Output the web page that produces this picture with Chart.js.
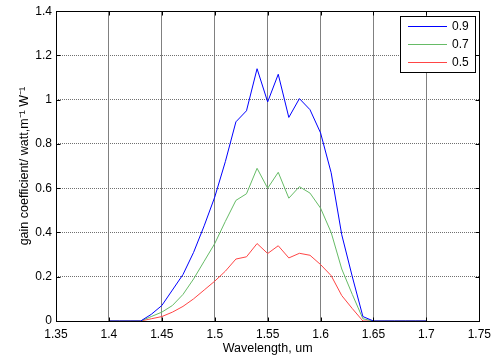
<!DOCTYPE html>
<html>
<head>
<meta charset="utf-8">
<title>Gain coefficient</title>
<script src="https://cdn.jsdelivr.net/npm/chart.js@4.4.0/dist/chart.umd.min.js"></script>
<style>
  html, body { margin: 0; padding: 0; background: #fff; }
  #wrap { width: 497px; height: 358px; }
</style>
</head>
<body>
<div id="wrap"><canvas id="gainChart"></canvas></div>
<script>
// wavelength in um, one sample every 0.01
var wavelength = [1.40, 1.41, 1.42, 1.43, 1.44, 1.45, 1.46, 1.47, 1.48, 1.49,
                  1.50, 1.51, 1.52, 1.53, 1.54, 1.55, 1.56, 1.57, 1.58, 1.59,
                  1.60, 1.61, 1.62, 1.63, 1.64, 1.65, 1.66, 1.67, 1.68, 1.69, 1.70];
var gain09 = [0, 0, 0, 0, 0.03, 0.07, 0.14, 0.21, 0.31, 0.43,
              0.56, 0.72, 0.90, 0.95, 1.14, 0.99, 1.115, 0.92, 1.005, 0.955,
              0.85, 0.67, 0.39, 0.20, 0.02, 0, 0, 0, 0, 0, 0];
var gain07 = [0, 0, 0, 0, 0.02, 0.04, 0.07, 0.12, 0.19, 0.27,
              0.35, 0.45, 0.545, 0.575, 0.69, 0.60, 0.672, 0.555, 0.607, 0.578,
              0.51, 0.40, 0.235, 0.12, 0.01, 0, 0, 0, 0, 0, 0];
var gain05 = [0, 0, 0, 0, 0.01, 0.02, 0.04, 0.066, 0.10, 0.14,
              0.18, 0.225, 0.28, 0.29, 0.35, 0.305, 0.34, 0.285, 0.306, 0.297,
              0.255, 0.205, 0.115, 0.056, 0, 0, 0, 0, 0, 0, 0];
var seriesNames = ["0.9", "0.7", "0.5"];
var xTicks = [1.35, 1.4, 1.45, 1.5, 1.55, 1.6, 1.65, 1.7, 1.75];
var yTicks = [0, 0.2, 0.4, 0.6, 0.8, 1, 1.2, 1.4];

var colors = ['#0000ff', '#66bb66', '#ff4545'];
var values = [gain09, gain07, gain05];

function points(ys) {
  return wavelength.map(function (w, i) { return { x: w, y: ys[i] }; });
}

var tickFont = { family: "'Liberation Sans', Arial, sans-serif", size: 12 };
var titleFont = { family: "'Liberation Sans', Arial, sans-serif", size: 12.5 };

// black box round the plot, with short inward tick marks on all four sides
var plotFrame = {
  id: 'plotFrame',
  afterDatasetsDraw: function (chart) {
    var ctx = chart.ctx, a = chart.chartArea;
    var xs = chart.scales.x, ys = chart.scales.y;
    var L = Math.round(a.left) + 0.5, R = Math.round(a.right) + 0.5;
    var T = Math.round(a.top) + 0.5, B = Math.round(a.bottom) + 0.5;
    ctx.save();
    ctx.setLineDash([]);
    ctx.strokeStyle = '#000';
    ctx.lineWidth = 1;
    ctx.beginPath();
    xs.ticks.forEach(function (t) {
      var px = Math.round(xs.getPixelForValue(t.value)) + 0.5;
      ctx.moveTo(px, B); ctx.lineTo(px, B - 4);
      ctx.moveTo(px, T); ctx.lineTo(px, T + 4);
    });
    ys.ticks.forEach(function (t) {
      var py = Math.round(ys.getPixelForValue(t.value)) + 0.5;
      ctx.moveTo(L, py); ctx.lineTo(L + 4, py);
      ctx.moveTo(R, py); ctx.lineTo(R - 4, py);
    });
    ctx.stroke();
    ctx.strokeRect(L, T, R - L, B - T);
    ctx.restore();
  }
};

// legend box in the upper right corner of the plot
var boxLegend = {
  id: 'boxLegend',
  afterDraw: function (chart) {
    var ctx = chart.ctx, a = chart.chartArea;
    var w = 75, h = 56;
    var x0 = Math.round(a.right) - 4 - w, y0 = Math.round(a.top) + 5;
    ctx.save();
    ctx.setLineDash([]);
    ctx.fillStyle = '#fff';
    ctx.fillRect(x0, y0, w, h);
    ctx.strokeStyle = '#000';
    ctx.lineWidth = 1;
    ctx.strokeRect(x0 + 0.5, y0 + 0.5, w, h);
    ctx.font = "12px 'Liberation Sans', Arial, sans-serif";
    ctx.textBaseline = 'middle';
    seriesNames.forEach(function (name, i) {
      var cy = y0 + 10 + i * 18;
      ctx.fillStyle = colors[i];
      ctx.fillRect(x0 + 8, cy, 39, 1);
      ctx.fillStyle = '#000';
      ctx.fillText(name, x0 + 52, cy + 0.5);
    });
    ctx.restore();
  }
};

new Chart(document.getElementById('gainChart'), {
  type: 'scatter',
  data: {
    datasets: values.map(function (v, i) {
      return {
        label: seriesNames[i],
        data: points(v),
        showLine: true,
        borderColor: colors[i],
        borderWidth: 1,
        pointRadius: 0,
        pointHoverRadius: 0,
        tension: 0
      };
    })
  },
  options: {
    responsive: true,
    maintainAspectRatio: false,
    animation: false,
    layout: { padding: { top: 10, right: 15, left: 0, bottom: 0 } },
    plugins: {
      legend: { display: false },
      tooltip: { enabled: false }
    },
    scales: {
      x: {
        type: 'linear',
        min: 1.35,
        max: 1.75,
        afterBuildTicks: function (s) { s.ticks = xTicks.map(function (v) { return { value: v }; }); },
        afterFit: function (s) { s.height = 37; },
        ticks: {
          font: tickFont,
          color: '#000',
          padding: 6,
          maxRotation: 0,
          autoSkip: false,
          callback: function (v) { return String(Math.round(v * 100) / 100); }
        },
        grid: { color: '#808080', drawTicks: false },
        border: { display: false },
        title: {
          display: true,
          text: 'Wavelength, um',
          font: titleFont,
          color: '#000',
          padding: { top: 0, bottom: 2 }
        }
      },
      y: {
        min: 0,
        max: 1.4,
        afterBuildTicks: function (s) { s.ticks = yTicks.map(function (v) { return { value: v }; }); },
        afterFit: function (s) { s.width = 56; },
        ticks: {
          font: tickFont,
          color: '#000',
          padding: 4,
          callback: function (v) { return String(Math.round(v * 10) / 10); }
        },
        grid: { color: '#707070', drawTicks: false },
        border: { display: false, dash: [1, 1] },
        title: {
          display: true,
          text: 'gain coefficient/ watt,m\u207B\u00B9 W\u207B\u00B9',
          font: titleFont,
          color: '#000',
          padding: { top: 17, bottom: 0 }
        }
      }
    }
  },
  plugins: [plotFrame, boxLegend]
});
</script>
</body>
</html>
